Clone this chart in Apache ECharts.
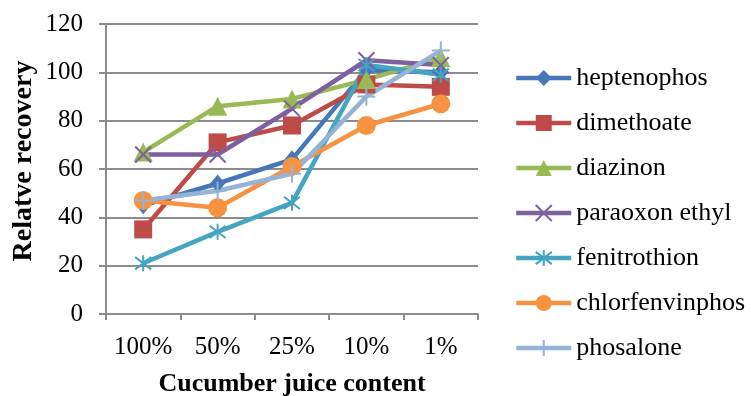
<!DOCTYPE html>
<html>
<head>
<meta charset="utf-8">
<script src="https://cdn.jsdelivr.net/npm/echarts@6/dist/echarts.min.js"></script>
<style>
  html, body { margin: 0; padding: 0; background: #fff; }
  #chart { width: 751px; height: 396px; }
</style>
</head>
<body>
<div id="chart"></div>
<script>
// Relative recovery of pesticides versus cucumber juice content
const categories = ['100%', '50%', '25%', '10%', '1%'];
const yTicks = [0, 20, 40, 60, 80, 100, 120];

const heptenophos     = [45, 54, 64, 101, 100];
const dimethoate      = [35, 71, 78, 95, 94];
const diazinon        = [67, 86, 89, 97, 106];
const paraoxonEthyl   = [66, 66, 85, 105, 103];
const fenitrothion    = [21, 34, 46, 103, 99];
const chlorfenvinphos = [47, 44, 61, 78, 87];
const phosalone       = [47, 51, 58, 90, 109];

const FONT = '"Liberation Serif", "Times New Roman", serif';

// stroked marker outlines
const CROSS_X = 'path://M0,0 L10,10 M10,0 L0,10';
const ASTERISK = 'path://M0,0 L10,10 M10,0 L0,10 M5,-1.5 L5,11.5';
const PLUS = 'path://M5,0 L5,10 M0,5 L10,5';

function line(name, data, color, symbol, size, stroked) {
  return {
    name: name,
    type: 'line',
    data: data,
    symbol: symbol,
    symbolSize: size,
    showAllSymbol: true,
    lineStyle: { color: color, width: 4.5 },
    itemStyle: stroked
      ? { color: color, borderColor: color, borderWidth: 2 }
      : { color: color, borderWidth: 0 },
    emphasis: { disabled: true },
    animation: false
  };
}

const chart = echarts.init(document.getElementById('chart'), null, { renderer: 'canvas' });
chart.setOption({
  backgroundColor: '#ffffff',
  animation: false,
  grid: { left: 106, right: 273, top: 24, bottom: 82, containLabel: false, outerBoundsMode: 'none' },
  legend: {
    orient: 'vertical',
    left: 514,
    top: 65,
    padding: 0,
    itemWidth: 55,
    itemHeight: 20,
    itemGap: 19,
    lineStyle: { width: 4.5 },
    textStyle: { fontFamily: FONT, fontSize: 26, lineHeight: 26, color: '#000' },
    data: ['heptenophos', 'dimethoate', 'diazinon', 'paraoxon ethyl', 'fenitrothion', 'chlorfenvinphos', 'phosalone']
  },
  xAxis: {
    type: 'category',
    data: categories,
    boundaryGap: true,
    name: 'Cucumber juice content',
    nameLocation: 'middle',
    nameGap: 57,
    nameTextStyle: { fontFamily: FONT, fontSize: 26, fontWeight: 'bold', color: '#000' },
    axisLine: { lineStyle: { color: '#8c8c8c', width: 2 } },
    axisTick: { show: true, interval: 0, length: 6, lineStyle: { color: '#8c8c8c', width: 2 } },
    axisLabel: { interval: 0, fontFamily: FONT, fontSize: 25, color: '#000', margin: 21 },
    splitLine: { show: false }
  },
  yAxis: {
    type: 'value',
    min: yTicks[0],
    max: yTicks[yTicks.length - 1],
    interval: 20,
    axisLine: { show: true, lineStyle: { color: '#8c8c8c', width: 2 } },
    axisTick: { show: true, length: 7, lineStyle: { color: '#8c8c8c', width: 2 } },
    axisLabel: { fontFamily: FONT, fontSize: 25, color: '#000', margin: 23 },
    splitLine: { show: true, lineStyle: { color: '#8c8c8c', width: 2 } }
  },
  graphic: [{
    type: 'text',
    x: 24,
    y: 161,
    rotation: Math.PI / 2,
    style: {
      text: 'Relatve recovery',
      fontFamily: FONT,
      fontSize: 28,
      fontWeight: 'bold',
      fill: '#000',
      align: 'center',
      verticalAlign: 'middle'
    }
  }],
  series: [
    line('heptenophos', heptenophos, '#4677b8', 'diamond', [15, 18], false),
    line('dimethoate', dimethoate, '#be4b48', 'rect', 18, false),
    line('diazinon', diazinon, '#98b954', 'triangle', 19, false),
    line('paraoxon ethyl', paraoxonEthyl, '#7d60a0', CROSS_X, 16, true),
    line('fenitrothion', fenitrothion, '#43a5c0', ASTERISK, 16, true),
    line('chlorfenvinphos', chlorfenvinphos, '#f69240', 'circle', 19, false),
    line('phosalone', phosalone, '#95b3d7', PLUS, 18, true)
  ]
});
</script>
</body>
</html>
